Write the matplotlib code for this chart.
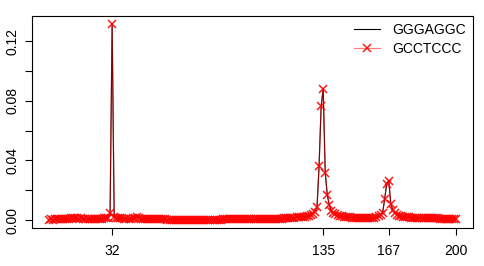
import matplotlib
matplotlib.use("Agg")
import matplotlib.pyplot as plt

plt.rcParams['font.family'] = ['Liberation Sans', 'DejaVu Sans']

positions = list(range(1, 201))

gggaggc = [
    0.0004, 0.0005, 0.0004, 0.0006, 0.0005, 0.0007, 0.0006, 0.0008, 0.0007, 0.0009,
    0.0010, 0.0012, 0.0011, 0.0014, 0.0012, 0.0010, 0.0011, 0.0009, 0.0008, 0.0007,
    0.0007, 0.0008, 0.0007, 0.0009, 0.0008, 0.0010, 0.0009, 0.0011, 0.0013, 0.0016,
    0.0045, 0.1317, 0.0024, 0.0016, 0.0013, 0.0012, 0.0011, 0.0010, 0.0010, 0.0009,
    0.0010, 0.0011, 0.0013, 0.0021, 0.0012, 0.0010, 0.0009, 0.0008, 0.0008, 0.0007,
    0.0007, 0.0006, 0.0006, 0.0006, 0.0005, 0.0005, 0.0005, 0.0005, 0.0004, 0.0004,
    0.0004, 0.0004, 0.0004, 0.0004, 0.0004, 0.0004, 0.0004, 0.0004, 0.0004, 0.0004,
    0.0004, 0.0004, 0.0004, 0.0004, 0.0004, 0.0004, 0.0004, 0.0004, 0.0004, 0.0004,
    0.0004, 0.0004, 0.0004, 0.0004, 0.0004, 0.0005, 0.0005, 0.0005, 0.0005, 0.0005,
    0.0005, 0.0005, 0.0005, 0.0005, 0.0005, 0.0005, 0.0005, 0.0005, 0.0005, 0.0005,
    0.0005, 0.0005, 0.0006, 0.0006, 0.0006, 0.0007, 0.0007, 0.0007, 0.0008, 0.0008,
    0.0008, 0.0009, 0.0009, 0.0010, 0.0010, 0.0011, 0.0012, 0.0013, 0.0014, 0.0015,
    0.0017, 0.0020, 0.0024, 0.0021, 0.0022, 0.0024, 0.0026, 0.0030, 0.0035, 0.0043,
    0.0055, 0.0090, 0.0364, 0.0763, 0.0880, 0.0319, 0.0168, 0.0101, 0.0060, 0.0046,
    0.0038, 0.0032, 0.0028, 0.0025, 0.0023, 0.0021, 0.0019, 0.0018, 0.0017, 0.0016,
    0.0015, 0.0014, 0.0014, 0.0013, 0.0013, 0.0013, 0.0013, 0.0014, 0.0015, 0.0017,
    0.0020, 0.0025, 0.0032, 0.0050, 0.0140, 0.0245, 0.0265, 0.0110, 0.0067, 0.0046,
    0.0036, 0.0030, 0.0026, 0.0023, 0.0021, 0.0019, 0.0018, 0.0017, 0.0016, 0.0015,
    0.0014, 0.0014, 0.0013, 0.0013, 0.0012, 0.0012, 0.0012, 0.0011, 0.0011, 0.0011,
    0.0011, 0.0010, 0.0010, 0.0010, 0.0010, 0.0010, 0.0010, 0.0010, 0.0010, 0.0010,
]

gcctccc = [
    0.0004, 0.0005, 0.0004, 0.0006, 0.0005, 0.0007, 0.0006, 0.0008, 0.0007, 0.0009,
    0.0010, 0.0012, 0.0011, 0.0014, 0.0012, 0.0010, 0.0011, 0.0009, 0.0008, 0.0007,
    0.0007, 0.0008, 0.0007, 0.0009, 0.0008, 0.0010, 0.0009, 0.0011, 0.0013, 0.0016,
    0.0045, 0.1317, 0.0024, 0.0016, 0.0013, 0.0012, 0.0011, 0.0010, 0.0010, 0.0009,
    0.0010, 0.0011, 0.0013, 0.0021, 0.0012, 0.0010, 0.0009, 0.0008, 0.0008, 0.0007,
    0.0007, 0.0006, 0.0006, 0.0006, 0.0005, 0.0005, 0.0005, 0.0005, 0.0004, 0.0004,
    0.0004, 0.0004, 0.0004, 0.0004, 0.0004, 0.0004, 0.0004, 0.0004, 0.0004, 0.0004,
    0.0004, 0.0004, 0.0004, 0.0004, 0.0004, 0.0004, 0.0004, 0.0004, 0.0004, 0.0004,
    0.0004, 0.0004, 0.0004, 0.0004, 0.0004, 0.0005, 0.0005, 0.0005, 0.0005, 0.0005,
    0.0005, 0.0005, 0.0005, 0.0005, 0.0005, 0.0005, 0.0005, 0.0005, 0.0005, 0.0005,
    0.0005, 0.0005, 0.0006, 0.0006, 0.0006, 0.0007, 0.0007, 0.0007, 0.0008, 0.0008,
    0.0008, 0.0009, 0.0009, 0.0010, 0.0010, 0.0011, 0.0012, 0.0013, 0.0014, 0.0015,
    0.0017, 0.0020, 0.0024, 0.0021, 0.0022, 0.0024, 0.0026, 0.0030, 0.0035, 0.0043,
    0.0055, 0.0090, 0.0364, 0.0763, 0.0880, 0.0319, 0.0168, 0.0101, 0.0060, 0.0046,
    0.0038, 0.0032, 0.0028, 0.0025, 0.0023, 0.0021, 0.0019, 0.0018, 0.0017, 0.0016,
    0.0015, 0.0014, 0.0014, 0.0013, 0.0013, 0.0013, 0.0013, 0.0014, 0.0015, 0.0017,
    0.0020, 0.0025, 0.0032, 0.0050, 0.0140, 0.0245, 0.0265, 0.0110, 0.0067, 0.0046,
    0.0036, 0.0030, 0.0026, 0.0023, 0.0021, 0.0019, 0.0018, 0.0017, 0.0016, 0.0015,
    0.0014, 0.0014, 0.0013, 0.0013, 0.0012, 0.0012, 0.0012, 0.0011, 0.0011, 0.0011,
    0.0011, 0.0010, 0.0010, 0.0010, 0.0010, 0.0010, 0.0010, 0.0010, 0.0010, 0.0010,
]

x_ticks = [32, 135, 167, 200]
y_ticks = [0.00, 0.02, 0.04, 0.06, 0.08, 0.10, 0.12]
y_labeled = [0.00, 0.04, 0.08, 0.12]

fig = plt.figure(figsize=(4.85, 2.66), dpi=100)
ax = fig.add_axes([0.0666, 0.1429, 0.908, 0.7981])

ax.plot(positions, gggaggc, color='black', lw=0.8, label='GGGAGGC', zorder=2)
ax.plot(positions, gcctccc, color=(1, 0, 0, 0.5), lw=0.9, marker='x',
        markersize=6, markeredgewidth=1.1, markeredgecolor=(1, 0, 0, 0.9),
        label='GCCTCCC', zorder=3)

xmin, xmax = min(positions), max(positions)
ymax = max(max(gggaggc), max(gcctccc))
ymin = 0.0
dx = (xmax - xmin) * 0.04
dy = (ymax - ymin) * 0.04
ax.set_xlim(xmin - dx, xmax + dx)
ax.set_ylim(ymin - dy, ymax + dy)

ax.set_xticks(x_ticks)
ax.set_xticklabels([str(t) for t in x_ticks])
ax.set_yticks(y_ticks)
ax.set_yticklabels([f"{t:.2f}" if t in y_labeled else "" for t in y_ticks],
                   rotation=90, va='center')

ax.tick_params(axis='both', direction='out', length=5, width=0.8,
               labelsize=10, colors='black')
ax.tick_params(axis='x', pad=6.5)
ax.tick_params(axis='y', pad=4.5)
for s in ax.spines.values():
    s.set_linewidth(0.8)
    s.set_color('black')

ax.legend(loc='upper right', bbox_to_anchor=(0.985, 0.965), frameon=False,
          fontsize=10, borderaxespad=0, borderpad=0, handlelength=1.9,
          handletextpad=0.9, labelspacing=0.35)

fig.savefig('out.png', dpi=100)
